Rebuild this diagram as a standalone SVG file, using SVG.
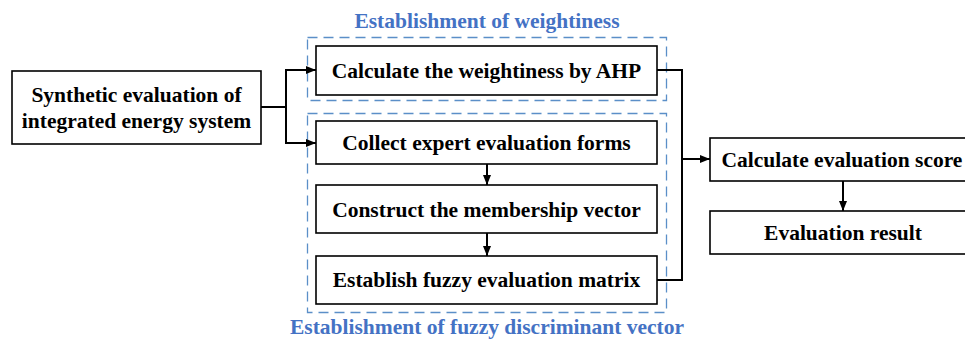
<svg xmlns="http://www.w3.org/2000/svg" width="965" height="340" viewBox="0 0 965 340">
<defs>
<marker id="ah" markerWidth="10" markerHeight="10" refX="10" refY="5" orient="auto" markerUnits="userSpaceOnUse"><path d="M0,1 L10,5 L0,9 Z" fill="#000"/></marker>
<style>
.box{fill:#fff;stroke:#000;stroke-width:1.6}
.grp{fill:none;stroke:#5b8fc8;stroke-width:1.3;stroke-dasharray:10 6}
.t{font-family:'Liberation Serif',serif;font-weight:700;font-size:21.5px;fill:#000;text-anchor:middle}
.g{font-family:'Liberation Serif',serif;font-weight:700;font-size:21.5px;fill:#4472c4;text-anchor:middle}
.c{fill:none;stroke:#000;stroke-width:2}
</style>
</defs>
<rect width="965" height="340" fill="#fff"/>
<g id="group-weight">
<rect class="grp" x="307.5" y="37.5" width="359" height="63"/>
<text class="g" x="487" y="28">Establishment of weightiness</text>
</g>
<g id="group-fuzzy">
<rect class="grp" x="307.5" y="113.5" width="359" height="199"/>
<text class="g" x="487" y="334">Establishment of fuzzy discriminant vector</text>
</g>
<g id="n-synthetic">
<rect class="box" x="12" y="71" width="249" height="73"/>
<text class="t" x="136.5" y="102">Synthetic evaluation of</text>
<text class="t" x="136.5" y="128">integrated energy system</text>
</g>
<g id="n-ahp">
<rect class="box" x="316" y="46" width="341" height="49"/>
<text class="t" x="486.5" y="78">Calculate the weightiness by AHP</text>
</g>
<g id="n-collect">
<rect class="box" x="316" y="121" width="341" height="43"/>
<text class="t" x="486.5" y="150">Collect expert evaluation forms</text>
</g>
<g id="n-construct">
<rect class="box" x="316" y="185" width="341" height="48"/>
<text class="t" x="486.5" y="217">Construct the membership vector</text>
</g>
<g id="n-establish">
<rect class="box" x="316" y="256" width="341" height="48"/>
<text class="t" x="486.5" y="287">Establish fuzzy evaluation matrix</text>
</g>
<g id="n-score">
<rect class="box" x="710" y="138" width="270" height="43"/>
<text class="t" x="842" y="167">Calculate evaluation score</text>
</g>
<g id="n-result">
<rect class="box" x="710" y="211" width="270" height="43"/>
<text class="t" x="843" y="240">Evaluation result</text>
</g>
<g id="connectors">
<path class="c" d="M261,107 H286"/>
<path class="c" d="M286,107 V70 H316" marker-end="url(#ah)"/>
<path class="c" d="M286,107 V143 H316" marker-end="url(#ah)"/>
<path class="c" d="M487,164 V185" marker-end="url(#ah)"/>
<path class="c" d="M487,233 V256" marker-end="url(#ah)"/>
<path class="c" d="M657,70 H682 V280 H657"/>
<path class="c" d="M682,159 H710" marker-end="url(#ah)"/>
<path class="c" d="M843,181 V211" marker-end="url(#ah)"/>
</g>
</svg>
